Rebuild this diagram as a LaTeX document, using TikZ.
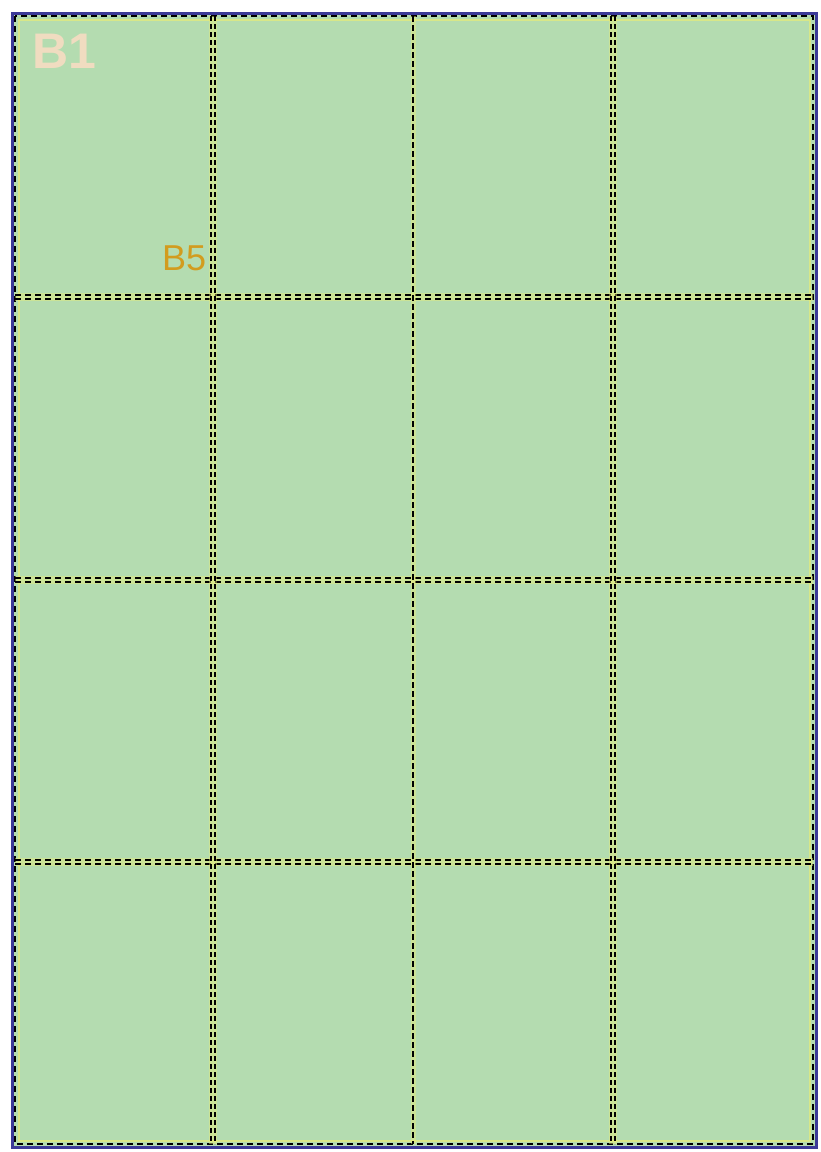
\documentclass[tikz,border=0pt]{standalone}
\usepackage{fontspec}
\setmainfont{Liberation Sans}
\begin{document}
\begin{tikzpicture}[x=1pt,y=-1pt,
  gridyellow/.style={draw=yellowline,line width=8pt,opacity=0.45},
  griddash/.style={draw=black,line width=2pt,dash pattern=on 5pt off 3pt},
  lbl/.style={inner sep=0pt,anchor=base west}]
\definecolor{fieldgreen}{HTML}{B4DCB0}
\definecolor{frameblue}{HTML}{3C3A98}
\definecolor{yellowline}{HTML}{E8EC78}
\definecolor{labelorange}{HTML}{D29C1E}
\definecolor{labelbeige}{HTML}{F0DCC0}
\useasboundingbox (0,0) rectangle (820,1152);
\fill[white] (0,0) rectangle (820,1152);
% outer frame
\draw[fill=fieldgreen,draw=frameblue,line width=3pt] (12,13) rectangle (816,1147);
% inner border
\draw[draw=yellowline,line width=2pt,opacity=0.7] (18.5,19.5) rectangle (809.5,1140.5);
\draw[griddash,dash pattern=on 6pt off 4pt] (15,16) rectangle (813,1144);
% horizontal grid lines
\foreach \y in {297,580,862}{
  \draw[gridyellow] (15,\y) -- (813,\y);
  \draw[griddash,dash pattern=on 6pt off 4pt] (15,\y-2.2) -- (813,\y-2.2);
  \draw[griddash,dash pattern=on 6pt off 4pt] (15,\y+2.2) -- (813,\y+2.2);
}
% vertical grid lines (double)
\foreach \x in {213,613}{
  \draw[gridyellow] (\x,16) -- (\x,1144);
  \draw[griddash] (\x-2.2,16) -- (\x-2.2,1144);
  \draw[griddash] (\x+2.2,16) -- (\x+2.2,1144);
}
% middle vertical line (single)
\draw[gridyellow,line width=5pt] (413,16) -- (413,1144);
\draw[griddash,line width=2.4pt,dash pattern=on 6pt off 3pt] (413,16) -- (413,1144);
% labels
\node[lbl,text=labelbeige,font=\bfseries\fontsize{50}{50}\selectfont] (b1) at (32,68) {B1};
\node[lbl,text=labelorange,font=\fontsize{36}{36}\selectfont] (b5) at (162,270) {B5};
\end{tikzpicture}
\end{document}
